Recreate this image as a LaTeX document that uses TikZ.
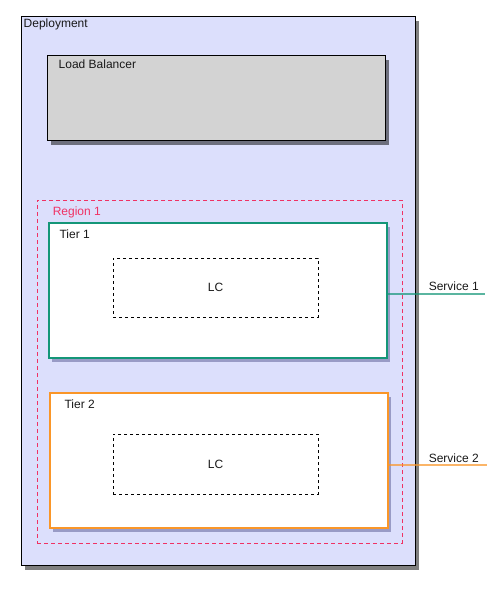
\documentclass[tikz,border=0pt]{standalone}
\usepackage{fontspec}
\setmainfont{Liberation Sans}
\usepackage{tikz}
\usetikzlibrary{positioning,shadows}
\definecolor{deployfill}{RGB}{220,223,252}
\definecolor{lbfill}{RGB}{211,211,211}
\definecolor{regionred}{RGB}{240,50,100}
\definecolor{tealline}{RGB}{20,150,120}
\definecolor{orangeline}{RGB}{250,150,40}
\definecolor{textgrey}{RGB}{25,25,25}
\tikzset{main box/.style={rectangle,draw=black,line width=1pt,inner sep=0pt,drop shadow={shadow xshift=4pt,shadow yshift=-5pt,fill=black,opacity=0.5}},}
\tikzset{tier box/.style={rectangle,fill=white,line width=1.25pt,inner sep=0pt,drop shadow={shadow xshift=3pt,shadow yshift=-4pt,fill=black!70!blue,opacity=0.3}},}
\tikzset{lc box/.style={rectangle,draw=black,dashed,line width=0.8pt,fill=white,inner sep=0pt,minimum width=205pt,minimum height=59pt,text=textgrey},}
\tikzset{box title/.style={inner sep=0pt,text=textgrey,font=\fontsize{12}{14}\selectfont},}
\tikzset{service line/.style={line width=2pt,opacity=0.7},}

\begin{document}
\begin{tikzpicture}[x=1pt,y=-1pt,font=\fontsize{12}{14}\selectfont]
    \useasboundingbox (0,0) rectangle (498,589);
    % boxes
    \node[main box,fill=deployfill,minimum width=394pt,minimum height=549pt] (deploy) at (218,290.5) {};
    \node[main box,fill=lbfill,minimum width=338pt,minimum height=85pt] (lb) at (216,97.5) {};
    \node[rectangle,draw=regionred,dashed,dash pattern=on 4pt off 3pt,line width=0.8pt,inner sep=0pt,minimum width=365pt,minimum height=343pt] (region) at (219.5,371.5) {};
    \node[tier box,draw=tealline,minimum width=338pt,minimum height=135pt] (tier1) at (218,290.5) {};
    \node[lc box] (lc1) at (215.5,287.5) {LC};
    \node[tier box,draw=orangeline,minimum width=338pt,minimum height=135pt] (tier2) at (219,460.5) {};
    \node[lc box,minimum height=60pt] (lc2) at (215.5,464) {LC};

    % titles
    \node[box title] (deploytitle) [below right = 3pt and 3pt of deploy.north west] {Deployment};
    \node[box title] (lbtitle) [below right = 5pt and 12pt of lb.north west] {Load Balancer};
    \node[box title,text=regionred] (regiontitle) [below right = 7pt and 16pt of region.north west] {Region 1};
    \node[box title] (tier1title) [below right = 7pt and 11pt of tier1.north west] {Tier 1};
    \node[box title] (tier2title) [below right = 7pt and 15pt of tier2.north west] {Tier 2};

    % services
    \coordinate (s1) at (485,293.5);
    \coordinate (s2) at (487,465.3);
    \draw[service line,tealline] (tier1.east |- s1) -- (s1);
    \draw[service line,orangeline] (tier2.east |- s2) -- (s2);
    \node[box title,anchor=base east] (svc1) at ([xshift=-6pt,yshift=3pt]s1) {Service 1};
    \node[box title,anchor=base east] (svc2) at ([xshift=-8pt,yshift=3.3pt]s2) {Service 2};
\end{tikzpicture}
\end{document}
